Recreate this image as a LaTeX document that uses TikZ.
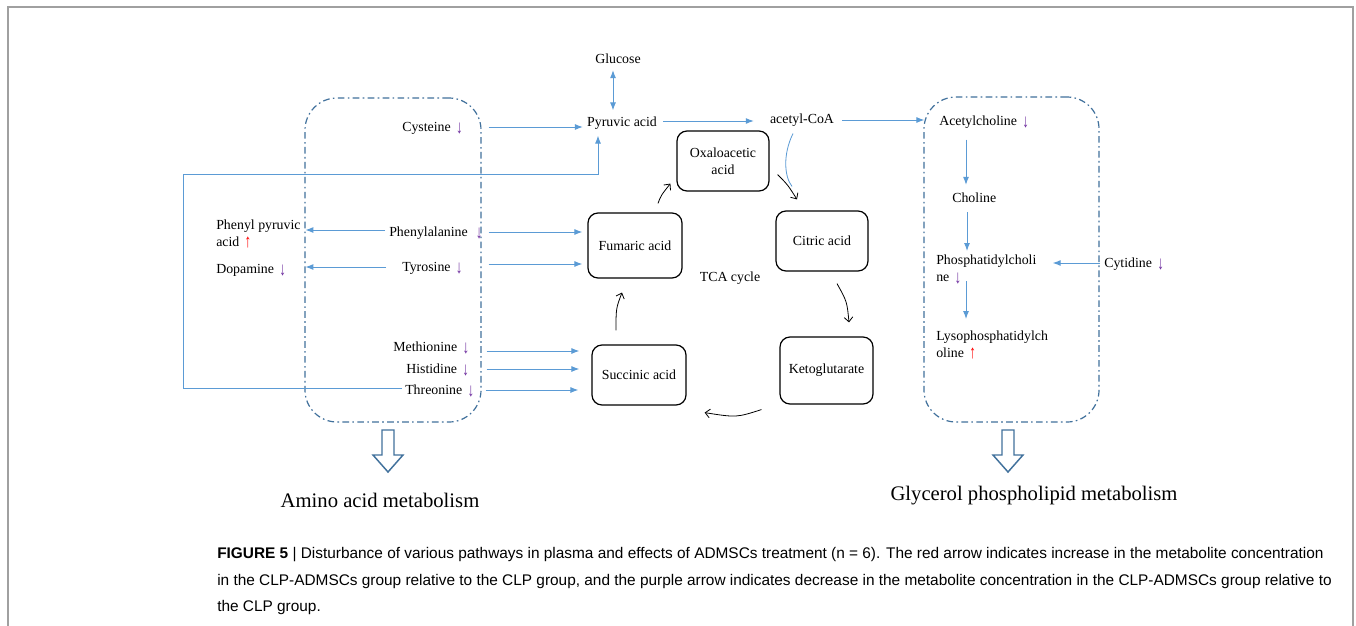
\documentclass[tikz,border=0pt]{standalone}
\usepackage{fontspec}
\setmainfont{Liberation Serif}
\newfontfamily\capfont{Liberation Sans}
\usetikzlibrary{arrows.meta,calc}
\definecolor{arrblue}{HTML}{5B9BD5}
\definecolor{grpblue}{HTML}{41719C}
\definecolor{purp}{HTML}{7030A0}
\definecolor{upred}{HTML}{FF0000}
\definecolor{framegray}{HTML}{A0A0A0}
\newcommand\dnm{\hspace{4pt}{\color{purp}\raisebox{-1.6pt}{\scalebox{0.95}[1.35]{↓}}}}
\newcommand\upm{\hspace{4pt}{\color{upred}\raisebox{-0.4pt}{\scalebox{0.95}[1.35]{↑}}}}
\begin{document}
\begin{tikzpicture}[x=0.75pt,y=-0.75pt,
  lbl/.style={font=\fontsize{10.4}{12.6}\selectfont, inner sep=0pt, align=left},
  bigl/.style={font=\fontsize{15.5}{18}\selectfont, inner sep=0pt},
  tbox/.style={draw=black, line width=0.9pt, rounded corners=7.5pt, font=\fontsize{10.4}{12.6}\selectfont, align=center, inner sep=0pt},
  grp/.style={draw=grpblue, line width=0.9pt, rounded corners=24pt, dash pattern=on 5pt off 2.5pt on 1.2pt off 2.5pt, inner sep=0pt},
  barr/.style={draw=arrblue, line width=0.75pt, -{Latex[length=6pt,width=4.5pt]}},
  karr/.style={draw=black, line width=0.6pt, -{Straight Barb[length=3.5pt,width=6.5pt]}},
  hollow/.style={draw=grpblue, line width=1.1pt, fill=white}
]
\useasboundingbox (0,0) rectangle (1356,625);
\fill[white] (0,0) rectangle (1356,625);
% outer frame
\draw[framegray, line width=1.5pt] (8,640) -- (8,7) -- (1353,7) -- (1353,640);

% group boxes
\node[grp, minimum width=176*0.75pt, minimum height=324*0.75pt] (gA) at (393,260) {};
\node[grp, minimum width=175*0.75pt, minimum height=325*0.75pt] (gB) at (1011.5,259.5) {};

% top labels
\node[lbl] (glu) at (618,59) {Glucose};
\node[lbl] (pyr) at (622,123) {Pyruvic acid};
\node[lbl] (acoa) at (802,120) {acetyl-CoA};

% left column texts
\node[lbl, anchor=west] (cys) at (402,128) {Cysteine\dnm};
\node[lbl, anchor=west] (phe) at (389,233) {Phenylalanine\hspace{2pt}\dnm};
\node[lbl, anchor=west] (tyr) at (402,268) {Tyrosine\dnm};
\node[lbl, anchor=west] (met) at (393,348) {Methionine\dnm};
\node[lbl, anchor=west] (his) at (406,370) {Histidine\dnm};
\node[lbl, anchor=west] (thr) at (405,391) {Threonine\dnm};
\node[lbl, anchor=north west] (ppa) at (216,220) {Phenyl pyruvic\\acid\upm};
\node[lbl, anchor=west] (dop) at (216,270) {Dopamine\dnm};

% right column texts
\node[lbl, anchor=west] (acl) at (939,122) {Acetylcholine\dnm};
\node[lbl, anchor=west] (cho) at (952,198) {Choline};
\node[lbl, anchor=north west] (pcl) at (936,255) {Phosphatidylcholi\\ne\dnm};
\node[lbl, anchor=north west] (lpc) at (936,331) {Lysophosphatidylch\\oline\upm};
\node[lbl, anchor=west] (cyt) at (1104,264) {Cytidine\dnm};

% TCA boxes
\node[tbox, minimum width=92*0.75pt, minimum height=60*0.75pt] (oxa) at (723,161) {Oxaloacetic\\acid};
\node[tbox, minimum width=92*0.75pt, minimum height=60*0.75pt] (cit) at (822,241) {Citric acid};
\node[tbox, minimum width=93*0.75pt, minimum height=67*0.75pt] (ket) at (826.5,370.5) {Ketoglutarate};
\node[tbox, minimum width=94*0.75pt, minimum height=60*0.75pt] (suc) at (639,375) {Succinic acid};
\node[tbox, minimum width=94*0.75pt, minimum height=65*0.75pt] (fum) at (635,245.5) {Fumaric acid};
\node[lbl] (tca) at (730,278) {TCA cycle};

% blue connectors, top
\draw[barr, {Latex[length=6pt,width=4.5pt]}-{Latex[length=6pt,width=4.5pt]}]
  ($(glu.south)+(-5,6)$) -- ($(glu.south |- pyr.north)+(-5,-6)$);
\draw[barr] ($(gA.east |- cys.east)+(7,-1)$) -- ($(pyr.west |- cys.east)+(-4,-1)$);
\draw[barr] ($(pyr.east)+(6,-2)$) -- ($(acoa.west |- pyr.east)+(-16,-2)$);
\draw[barr] ($(acoa.east)+(8,0)$) -- ($(gB.west |- acl.west)+(1,-2)$);
% Threonine loop to pyruvic acid
\coordinate (lpA) at (183,174);
\draw[barr] ($(thr.west)+(-3,-3)$) -| (lpA) -| ($(pyr.south)+(-24,6)$);

% amino acids to TCA
\draw[barr] ($(gA.east |- phe.east)+(7,-1)$) -- ($(fum.west |- phe.east)+(-5,-1)$);
\draw[barr] ($(gA.east |- tyr.east)+(7,-4)$) -- ($(fum.west |- tyr.east)+(-5,-4)$);
\draw[barr] ($(gA.east |- met.east)+(5,3)$) -- ($(suc.west |- met.east)+(-12,3)$);
\draw[barr] ($(gA.east |- his.east)+(5,-1)$) -- ($(suc.west |- his.east)+(-12,-1)$);
\draw[barr] ($(gA.east |- thr.east)+(4,-1)$) -- ($(suc.west |- thr.east)+(-13,-1)$);
% amino acids to products
\draw[barr] ($(phe.west)+(-4,-3)$) -- ($(gA.west |- phe.west)+(1,-3)$);
\draw[barr] ($(tyr.west)+(-16,-1)$) -- ($(gA.west |- tyr.west)+(1,-1)$);

% glycerophospholipid chain
\draw[barr] ($(acl.south west)+(27,11)$) -- ($(acl.south west |- cho.north)+(27,-8)$);
\draw[barr] ($(cho.south west)+(15,9)$) -- ($(cho.south west |- pcl.north)+(15,-4)$);
\draw[barr] ($(pcl.north west)+(30,26)$) -- ($(pcl.north west |- lpc.north)+(30,-12)$);
\draw[barr] ($(cyt.west)+(-4,-1)$) -- ($(pcl.north east |- cyt.west)+(16,-1)$);

% TCA cycle arrows
\draw[karr] ($(fum.north)+(23,-9)$) .. controls +(3,-8) .. ($(oxa.south west)+(-6,-8)$);
\draw[karr] ($(oxa.south east)+(8,-17)$) .. controls +(10,10) .. ($(cit.north)+(-25,-11)$);
\draw[karr] ($(cit.south)+(15,12)$) .. controls +(10,18) .. ($(ket.north)+(22.5,-14)$);
\draw[karr] ($(ket.south west)+(-18,5)$) .. controls +(-25,8) .. ($(suc.south east)+(18,7)$);
\draw[karr] ($(suc.north)+(-23,-14)$) .. controls +(0,-22) .. ($(fum.south)+(-13,14)$);
% acetyl-CoA into cycle
\draw[arrblue, line width=0.6pt] ($(acoa.south)+(-9,7)$) .. controls +(-10,20) and +(-8,-10) .. ($(cit.north)+(-30,-24)$);

% hollow arrows
\coordinate (ha1) at (388,430);
\coordinate (ha2) at (1008,430);
\draw[hollow] (ha1) ++(-6,0) -- ++(0,25) -- ++(-9,0) -- ++(15,17) -- ++(15,-17) -- ++(-9,0) -- ++(0,-25) -- cycle;
\draw[hollow] (ha2) ++(-6,0) -- ++(0,25) -- ++(-9,0) -- ++(15,17) -- ++(15,-17) -- ++(-9,0) -- ++(0,-25) -- cycle;
\node[bigl] (aam) at (380,500) {Amino acid metabolism};
\node[bigl] (gpm) at (1034,496) {Glycerol phospholipid metabolism};

% caption
\node[anchor=north west, inner sep=0pt, align=left, font=\capfont\fontsize{11.55}{20}\selectfont] (cap) at (217,547)
{\textbf{FIGURE 5} | Disturbance of various pathways in plasma and effects of ADMSCs treatment (n = 6). The red arrow indicates increase in the metabolite concentration\\
in the CLP-ADMSCs group relative to the CLP group, and the purple arrow indicates decrease in the metabolite concentration in the CLP-ADMSCs group relative to\\
the CLP group.};
\end{tikzpicture}
\end{document}
